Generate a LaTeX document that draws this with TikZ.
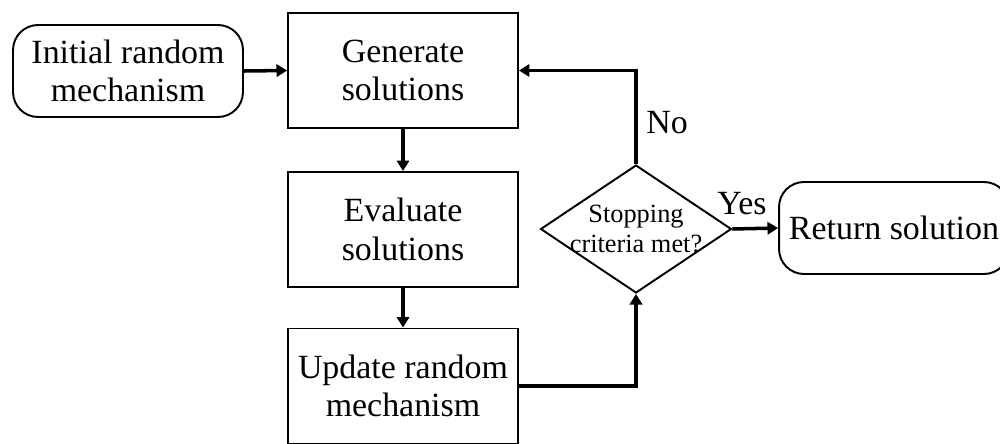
\documentclass[tikz,border=0pt]{standalone}
\usepackage{fontspec}
\setmainfont{Liberation Serif}
\usetikzlibrary{shapes.geometric,arrows.meta}
\begin{document}
\begin{tikzpicture}[x=0.02cm,y=-0.02cm,
  base/.style={draw=black,line width=1.1pt,align=center,inner sep=0pt,
    font=\fontsize{19.3pt}{21.8pt}\selectfont},
  procbox/.style={base,minimum width=4.6cm,minimum height=2.3cm},
  termbox/.style={base,rounded corners=0.5cm,minimum height=1.84cm},
  decision/.style={diamond,draw=black,line width=1.1pt,inner sep=0pt,
    minimum width=3.82cm,minimum height=2.56cm},
  conn/.style={line width=2pt,-{Triangle[length=6pt,width=7pt]}},
  lbl/.style={font=\fontsize{19.3pt}{21.8pt}\selectfont,inner sep=0pt}]
\useasboundingbox (0,0) rectangle (1000,443);
\clip (0,0) rectangle (1000,443);
\node[termbox,minimum width=4.6cm] (init) at (128,71) {Initial random\\mechanism};
\node[procbox] (gen) at (403,70.5) {Generate\\solutions};
\node[procbox] (eval) at (403,229.5) {Evaluate\\solutions};
\node[procbox] (upd) at (403,386) {Update random\\mechanism};
\node[decision] (dec) at (636,229) {};
\node[align=center,inner sep=0pt,font=\fontsize{15pt}{17.5pt}\selectfont] (dectext) at (636,229) {Stopping\\criteria met?};
\node[termbox,minimum width=4.6cm] (ret) at (894,228) {Return solution};
\node[lbl] (no) at (667,123) {No};
\node[lbl] (yes) at (742,204) {Yes};
\draw[conn] (init.east) -- (gen.west);
\draw[conn] (gen.south) -- (eval.north);
\draw[conn] (eval.south) -- (upd.north);
\draw[conn] (upd.east) -| (dec.south);
\draw[conn] (dec.north) |- (gen.east);
\draw[conn] (dec.east) -- (ret.west);
\end{tikzpicture}
\end{document}
